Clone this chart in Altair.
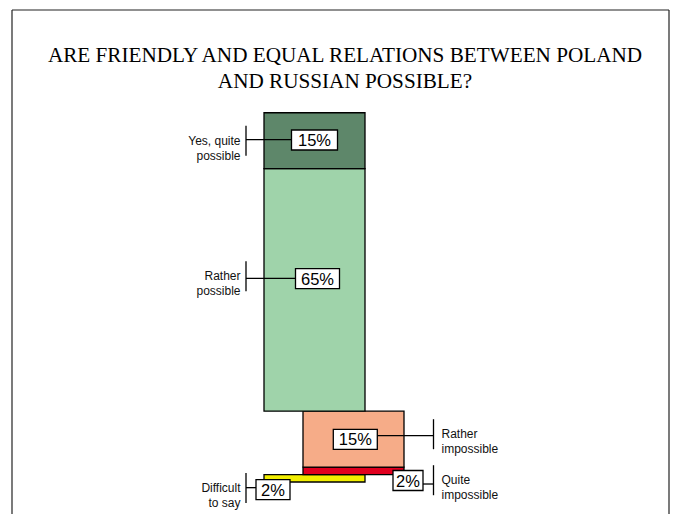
import altair as alt
import pandas as pd

# ---------------- data ----------------
categories = ["Difficult to say", "Quite impossible", "Rather impossible",
              "Rather possible", "Yes, quite possible"]
values = [2, 2, 15, 65, 15]
label_text = ["Difficult\nto say", "Quite\nimpossible", "Rather\nimpossible",
              "Rather\npossible", "Yes, quite\npossible"]
column_group = ["positive", "negative", "negative", "positive", "positive"]
colors = ["#f2ee00", "#e0001f", "#f6ac88", "#9fd3aa", "#5e876a"]
title_lines = ["ARE FRIENDLY AND EQUAL RELATIONS BETWEEN POLAND",
               "AND RUSSIAN POSSIBLE?"]

# ---------------- layout (pixels) ----------------
W, H = 657, 504
PXX = 101.0          # px per x unit (one bar width)
PXY = 3.73           # px per percent
X0 = 252             # px of x = 0
Y0 = 472             # px of 0 %
COL_SHIFT = {"positive": 0.0, "negative": 39 / PXX}

# annotation layout per category: side, box dx from column left (px),
# box dy from segment middle (px), box width, leader dy, bracket dy
ann = {
    "Difficult to say":    ("left", 9, 11.4, 34, 9.4, 9.7),
    "Quite impossible":    ("right", 105, 9.7, 30, 13.2, 9.4),
    "Rather impossible":   ("right", 52.3, 0.2, 44, -3.4, -4.9),
    "Rather possible":     ("left", 53.5, -11.2, 44, -11.6, -13.7),
    "Yes, quite possible": ("left", 50.5, -0.7, 46, -1.0, 0.0),
}
BOX_H = 20
BRK_HALF = 15

rows = []
start = 0.0
for cat, v, lab, grp in zip(categories, values, label_text, column_group):
    x0 = COL_SHIFT[grp]
    x1 = x0 + 1
    mid = start + v / 2
    side, bdx, bdy, bw, ldy, kdy = ann[cat]
    bx = x0 + bdx / PXX
    by = mid - bdy / PXY
    if side == "left":
        brk_x = -18 / PXX
        lead_a, lead_b = brk_x, bx - bw / 2 / PXX
        txt_x = brk_x - 5.5 / PXX
    else:
        brk_x = x1 + 29.5 / PXX
        lead_a, lead_b = bx + bw / 2 / PXX, brk_x
        txt_x = brk_x + 8 / PXX
    rows.append(dict(
        category=cat, value=v, label=lab, side=side, pct=f"{v}%",
        x0=x0, x1=x1, y0=start, y1=start + v,
        bx=bx, by=by, bx0=bx - bw / 2 / PXX, bx1=bx + bw / 2 / PXX,
        by0=by - BOX_H / 2 / PXY, by1=by + BOX_H / 2 / PXY,
        la=lead_a, lb=lead_b, ly=mid - ldy / PXY,
        kx=brk_x, ky=mid - kdy / PXY,
        ky0=mid - kdy / PXY - BRK_HALF / PXY, ky1=mid - kdy / PXY + BRK_HALF / PXY,
        tx=txt_x,
    ))
    start += v

df = pd.DataFrame(rows)

xs = alt.Scale(domain=[0, 1], range=[X0, X0 + PXX])
ys = alt.Scale(domain=[0, 100], range=[Y0, Y0 - 100 * PXY])

def X(f):
    return alt.X(f"{f}:Q", scale=xs, axis=None)

def Y(f):
    return alt.Y(f"{f}:Q", scale=ys, axis=None)

base = alt.Chart(df)

bars = base.mark_rect(stroke="black", strokeWidth=1.3).encode(
    x=X("x0"), x2="x1", y=Y("y0"), y2="y1",
    fill=alt.Fill("category:N", scale=alt.Scale(domain=categories, range=colors), legend=None),
)

leaders = base.mark_rule(color="black", strokeWidth=1.3).encode(
    x=X("la"), x2="lb", y=Y("ly"))

brackets = base.mark_rule(color="black", strokeWidth=1.3).encode(
    x=X("kx"), y=Y("ky0"), y2="ky1")

boxes = base.mark_rect(fill="white", stroke="black", strokeWidth=1.3).encode(
    x=X("bx0"), x2="bx1", y=Y("by0"), y2="by1")

box_text = base.mark_text(font="Liberation Sans", fontSize=16.5, color="black",
                          baseline="middle", align="center", dy=1).encode(
    x=X("bx"), y=Y("by"), text="pct:N")

lab_left = base.transform_filter(alt.datum.side == "left").mark_text(
    font="Liberation Sans", fontSize=12, color="#111", align="right",
    baseline="middle", lineBreak="\n", lineHeight=15).encode(
    x=X("tx"), y=Y("ky"), text="label:N")

lab_right = base.transform_filter(alt.datum.side == "right").mark_text(
    font="Liberation Sans", fontSize=12, color="#111", align="left",
    baseline="middle", lineBreak="\n", lineHeight=15).encode(
    x=X("tx"), y=Y("ky"), text="label:N")

title_df = pd.DataFrame({"t": title_lines, "i": list(range(len(title_lines)))})
title = alt.Chart(title_df).mark_text(
    font="Liberation Serif", fontSize=21.2, color="black", align="center",
    baseline="alphabetic").encode(
    x=alt.value(333),
    y=alt.Y("i:Q", scale=alt.Scale(domain=[0, 1], range=[52, 78]), axis=None),
    text="t:N")

frame_df = pd.DataFrame({"k": [0]})
fb = alt.Chart(frame_df)
frame_left = fb.mark_rule(color="#222", strokeWidth=1.2).encode(
    x=alt.value(0), y=alt.value(0), y2=alt.value(H + 20))
frame_right = fb.mark_rule(color="#222", strokeWidth=1.2).encode(
    x=alt.value(W), y=alt.value(0), y2=alt.value(H + 20))
frame_top = fb.mark_rule(color="#222", strokeWidth=1.2).encode(
    x=alt.value(0), x2=alt.value(W), y=alt.value(0))

chart = alt.layer(
    frame_left, frame_right, frame_top, title,
    bars, leaders, brackets, boxes, box_text, lab_left, lab_right,
).resolve_scale(y="independent").properties(
    width=W, height=H,
    autosize=alt.AutoSizeParams(type="none"),
    padding={"left": 12, "top": 10, "right": 5, "bottom": 0},
    background="white",
).configure_view(stroke=None)

chart.save("out.html", embed_options={"renderer": "svg", "actions": False})
